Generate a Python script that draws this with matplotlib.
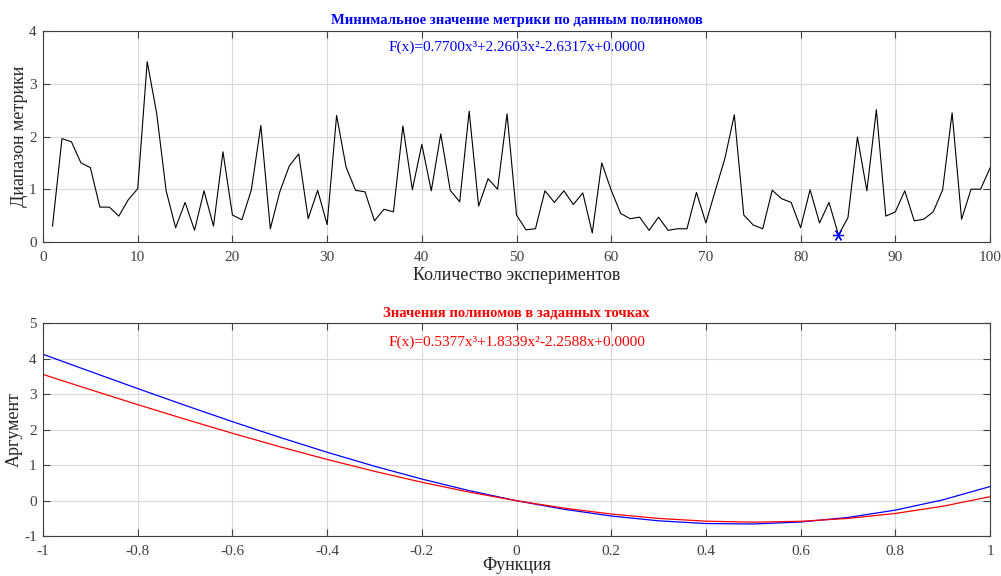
import numpy as np
import matplotlib
matplotlib.use("Agg")
import matplotlib.pyplot as plt

plt.rcParams['font.family'] = ['Liberation Serif', 'DejaVu Serif']
plt.rcParams['axes.unicode_minus'] = False

# top chart: metric range per experiment
experiments = list(range(1, 101))
metric = [0.30, 1.96, 1.90, 1.50, 1.41, 0.66, 0.66, 0.49, 0.80, 1.01,
          3.42, 2.44, 0.97, 0.27, 0.75, 0.22, 0.97, 0.30, 1.71, 0.51,
          0.42, 0.99, 2.21, 0.25, 0.95, 1.44, 1.67, 0.44, 0.98, 0.33,
          2.40, 1.42, 0.98, 0.95, 0.40, 0.62, 0.57, 2.20, 0.99, 1.85,
          0.97, 2.05, 0.98, 0.76, 2.48, 0.68, 1.20, 1.00, 2.43, 0.51,
          0.23, 0.25, 0.97, 0.75, 0.97, 0.71, 0.93, 0.17, 1.50, 0.98,
          0.54, 0.44, 0.47, 0.22, 0.47, 0.22, 0.25, 0.25, 0.94, 0.36,
          0.98, 1.58, 2.41, 0.51, 0.32, 0.25, 0.98, 0.82, 0.75, 0.27,
          0.99, 0.36, 0.75, 0.13, 0.46, 1.99, 0.97, 2.51, 0.49, 0.57,
          0.97, 0.40, 0.43, 0.57, 0.99, 2.45, 0.43, 1.00, 1.00, 1.40]
best_exp = 84

# bottom chart: polynomial coefficients (x^3, x^2, x, 1)
coef_blue = [0.7700, 2.2603, -2.6317, 0.0000]
coef_red = [0.5377, 1.8339, -2.2588, 0.0000]
x_points = [-1.0, -0.9, -0.8, -0.7, -0.6, -0.5, -0.4, -0.3, -0.2, -0.1, 0.0,
            0.1, 0.2, 0.3, 0.4, 0.5, 0.6, 0.7, 0.8, 0.9, 1.0]


def poly_label(c):
    return "F(x)=%.4fx³%+.4fx²%+.4fx%+.4f" % tuple(c)


def style_axes(ax):
    ax.grid(True, color='#d9d9d9', linewidth=0.8)
    ax.set_axisbelow(True)
    ax.tick_params(direction='in', top=True, right=True, labelsize=11,
                   colors='#404040', length=5, width=0.8)
    ax.tick_params(axis='x', pad=6.5)
    ax.tick_params(axis='y', pad=4.5)
    for s in ax.spines.values():
        s.set_color('#404040')
        s.set_linewidth(0.8)


fig = plt.figure(figsize=(10.01, 5.76), dpi=100)

ax1 = fig.add_axes([0.043, 0.580, 0.946, 0.366])
ax1.plot(experiments, metric, color='black', linewidth=0.8)
ax1.plot(best_exp, metric[best_exp - 1], marker=(6, 2, 90), color='blue',
         markersize=8, markeredgewidth=0.9, linestyle='none')
ax1.set_xlim(0, 100)
ax1.set_ylim(0, 4)
ax1.set_xticks(range(0, 101, 10))
ax1.set_yticks(range(0, 5))
style_axes(ax1)
ax1.set_title("Минимальное значение метрики по данным полиномов",
              color='blue', fontsize=10.5, fontweight='bold', pad=5)
ax1.text(50, 3.69, poly_label(coef_blue), color='blue', fontsize=11,
         ha='center', va='center')
ax1.set_xlabel("Количество экспериментов", fontsize=13, color='#262626', labelpad=2)
ax1.set_ylabel("Диапазон метрики", fontsize=13, color='#262626', labelpad=1)

ax2 = fig.add_axes([0.043, 0.069, 0.946, 0.370])
xs = np.array(x_points)
ax2.plot(xs, np.polyval(coef_blue, xs), color='blue', linewidth=0.9)
ax2.plot(xs, np.polyval(coef_red, xs), color='red', linewidth=0.9)
ax2.set_xlim(-1, 1)
ax2.set_ylim(-1, 5)
ax2.set_xticks(np.round(np.arange(-1, 1.01, 0.2), 1))
ax2.set_xticklabels(["-1", "-0.8", "-0.6", "-0.4", "-0.2", "0",
                     "0.2", "0.4", "0.6", "0.8", "1"])
ax2.set_yticks(range(-1, 6))
style_axes(ax2)
ax2.set_title("Значения полиномов в заданных точках",
              color='red', fontsize=10.5, fontweight='bold', pad=5)
ax2.text(0, 4.47, poly_label(coef_red), color='red', fontsize=11,
         ha='center', va='center')
ax2.set_xlabel("Функция", fontsize=13, color='#262626', labelpad=-1)
ax2.set_ylabel("Аргумент", fontsize=13, color='#262626', labelpad=1)

fig.savefig("out.png", dpi=100)
